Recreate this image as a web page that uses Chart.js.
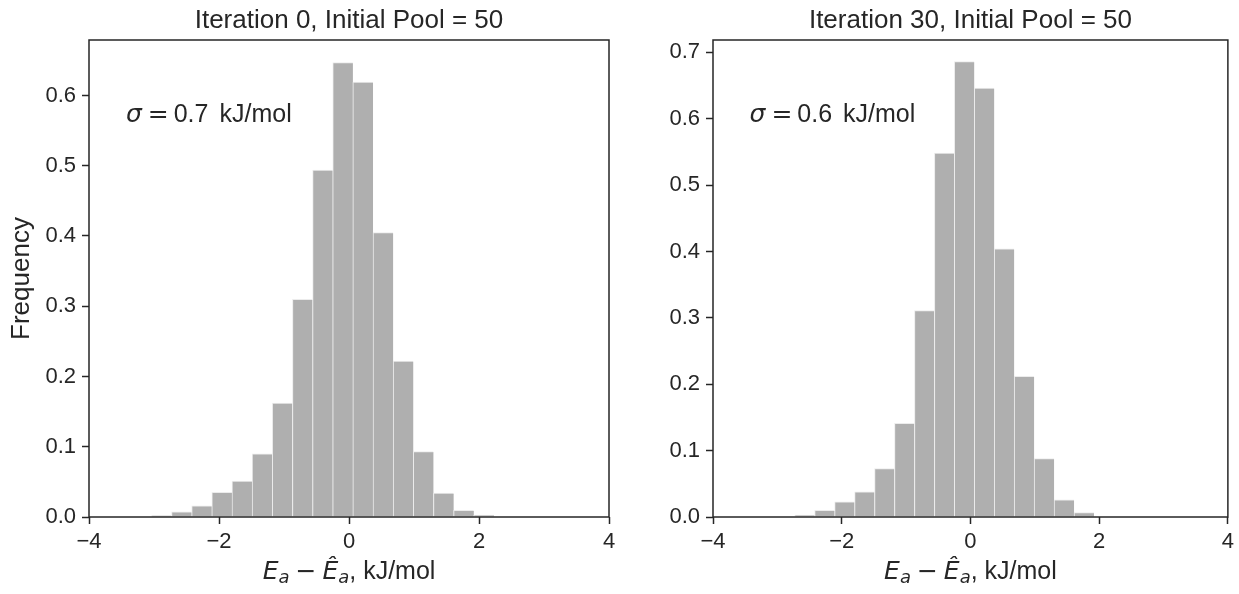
<!DOCTYPE html>
<html><head><meta charset="utf-8">
<script src="https://cdn.jsdelivr.net/npm/chart.js@4.4.1/dist/chart.umd.min.js"></script>
<style>
html,body{margin:0;padding:0;background:#fff;}
#wrap{position:relative;width:1239px;height:594px;overflow:hidden;}
.c{position:absolute;top:0;height:594px;}
</style></head><body>
<div id="wrap">
<div class="c" style="left:0;width:640px"><canvas id="c1"></canvas></div>
<div class="c" style="left:640px;width:599px"><canvas id="c2"></canvas></div>
</div>
<script>
// ---- data ----
const panelTitles = ['Iteration 0, Initial Pool = 50', 'Iteration 30, Initial Pool = 50'];
const sigmaLabels = ['0.7', '0.6'];
const xTicks = [-4, -2, 0, 2, 4];
const yTicks0 = [0.0, 0.1, 0.2, 0.3, 0.4, 0.5, 0.6];
const yTicks30 = [0.0, 0.1, 0.2, 0.3, 0.4, 0.5, 0.6, 0.7];
const binEdges0 = [-3.04, -2.73, -2.42, -2.11, -1.80, -1.49, -1.18, -0.87, -0.56, -0.25, 0.06, 0.37, 0.68, 0.99, 1.30, 1.61, 1.92, 2.23];
const freq0 = [0.002, 0.0075, 0.016, 0.035, 0.051, 0.090, 0.162, 0.310, 0.494, 0.647, 0.619, 0.405, 0.222, 0.093, 0.034, 0.0094, 0.0027];
const binEdges30 = [-2.73, -2.42, -2.11, -1.80, -1.49, -1.18, -0.87, -0.56, -0.25, 0.06, 0.37, 0.68, 0.99, 1.30, 1.61, 1.92];
const freq30 = [0.003, 0.010, 0.023, 0.038, 0.073, 0.141, 0.311, 0.548, 0.686, 0.646, 0.404, 0.212, 0.088, 0.026, 0.0065];
const yMax0 = 0.679;
const yMax30 = 0.7185;

const INK = '#262626';
const FONT = "'Liberation Sans', Arial, sans-serif";
const MATH = "'DejaVu Sans', sans-serif";

function fmtMinus(v) { return v < 0 ? '\u2212' + Math.abs(v) : String(v); }

function drawRuns(ctx, runs, xStart, baseline) {
  let x = xStart;
  for (const r of runs) {
    ctx.font = r.font;
    x += (r.pre || 0);
    ctx.fillText(r.t, x, baseline + (r.dy || 0));
    x += ctx.measureText(r.t).width + (r.post || 0);
  }
}
function runsWidth(ctx, runs) {
  let w = 0;
  for (const r of runs) { ctx.font = r.font; w += ctx.measureText(r.t).width + (r.pre || 0) + (r.post || 0); }
  return w;
}

const decorPlugin = {
  id: 'decor',
  afterDraw(chart, args, opts) {
    const ctx = chart.ctx, a = chart.chartArea;
    ctx.save();
    // frame
    ctx.strokeStyle = INK; ctx.lineWidth = 1.5;
    ctx.strokeRect(a.left, a.top, a.right - a.left, a.bottom - a.top);
    ctx.fillStyle = INK;
    ctx.textBaseline = 'alphabetic';
    // title
    ctx.font = '26px ' + FONT;
    ctx.textAlign = 'center';
    ctx.fillText(opts.title, (a.left + a.right) / 2, 28);
    ctx.textAlign = 'left';
    // sigma annotation
    const sig = [
      { t: '\u03C3', font: 'italic 25px ' + MATH, post: 6 },
      { t: '=', font: '25px ' + MATH, post: 5 },
      { t: opts.sigma, font: '25px ' + FONT, post: 11 },
      { t: 'kJ/mol', font: '25px ' + FONT }
    ];
    drawRuns(ctx, sig, a.left + 0.071 * (a.right - a.left), a.top + 0.171 * (a.bottom - a.top));
    // x-axis label
    const xl = [
      { t: 'E', font: 'italic 25px ' + MATH },
      { t: 'a', font: 'italic 18px ' + MATH, dy: 4, post: 6 },
      { t: '\u2212', font: '25px ' + MATH, post: 6 },
      { t: '\u00CA', font: 'italic 25px ' + MATH },
      { t: 'a', font: 'italic 18px ' + MATH, dy: 4 },
      { t: ', kJ/mol', font: '25px ' + FONT }
    ];
    const w = runsWidth(ctx, xl);
    drawRuns(ctx, xl, (a.left + a.right) / 2 - w / 2, 579);
    ctx.restore();
  }
};

function makeChart(id, edges, freqs, yTicks, yMax, idx, yWidth, padRight, showYTitle) {
  const centers = freqs.map((f, i) => (edges[i] + edges[i + 1]) / 2);
  const data = freqs.map((f, i) => ({ x: centers[i], y: f }));
  const gridCommon = { offset: false, drawOnChartArea: false, drawTicks: true, tickLength: 7, tickColor: INK, tickWidth: 1.5 };
  return new Chart(document.getElementById(id), {
    type: 'bar',
    data: {
      datasets: [{
        data: data,
        backgroundColor: '#afafaf',
        borderColor: '#ececec',
        borderWidth: { left: 1, right: 0, top: 1, bottom: 0 },
        borderSkipped: false,
        barPercentage: 1.0,
        categoryPercentage: 1.0
      }]
    },
    options: {
      responsive: true,
      maintainAspectRatio: false,
      animation: false,
      layout: { padding: { top: 40, left: 0, right: padRight, bottom: 0 } },
      plugins: {
        legend: { display: false },
        tooltip: { enabled: false },
        decor: { title: panelTitles[idx], sigma: sigmaLabels[idx] }
      },
      scales: {
        x: {
          type: 'linear', min: xTicks[0], max: xTicks[xTicks.length - 1], offset: false,
          afterBuildTicks: s => { s.ticks = xTicks.map(v => ({ value: v })); },
          ticks: { callback: v => fmtMinus(v), font: { family: FONT, size: 22 }, color: INK, padding: 5, maxRotation: 0, autoSkip: false },
          grid: gridCommon,
          border: { display: false },
          afterFit: s => { s.height = 77; }
        },
        y: {
          type: 'linear', min: 0, max: yMax,
          afterBuildTicks: s => { s.ticks = yTicks.map(v => ({ value: v })); },
          ticks: { callback: v => v.toFixed(1), font: { family: FONT, size: 22 }, color: INK, padding: 6, autoSkip: false },
          grid: gridCommon,
          border: { display: false },
          title: { display: showYTitle, text: 'Frequency', font: { family: FONT, size: 26 }, color: INK, padding: { top: 6, bottom: 0 } },
          afterFit: s => { s.width = yWidth; }
        }
      }
    },
    plugins: [decorPlugin]
  });
}

makeChart('c1', binEdges0, freq0, yTicks0, yMax0, 0, 89, 31, true);
makeChart('c2', binEdges30, freq30, yTicks30, yMax30, 1, 73, 9, false);
</script>
</body></html>
